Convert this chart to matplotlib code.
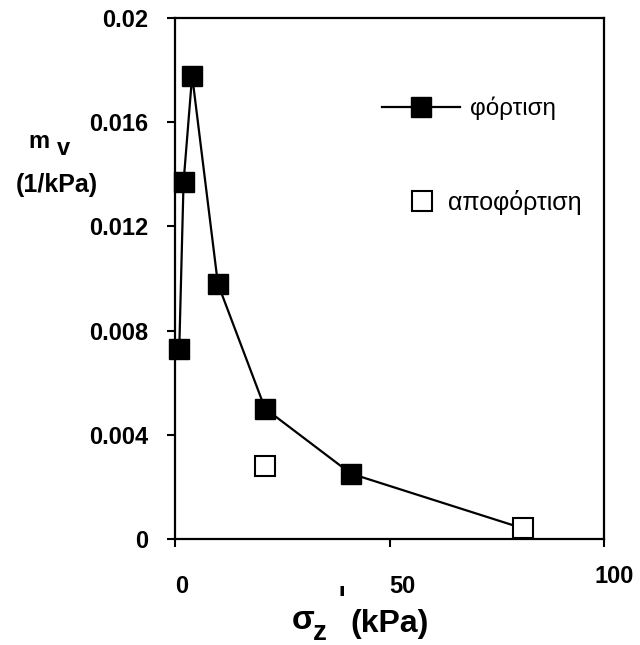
import matplotlib.pyplot as plt
from matplotlib.lines import Line2D
from matplotlib.transforms import ScaledTranslation

plt.rcParams['font.family'] = ['Liberation Sans', 'DejaVu Sans']

# loading (φόρτιση) and unloading (αποφόρτιση) data
load_x = [1, 2, 4, 10, 21, 41, 81]
load_y = [0.0073, 0.0137, 0.0178, 0.0098, 0.0050, 0.0025, 0.0004]
unload_x = [81, 21]
unload_y = [0.0004, 0.0028]

xticks = [0, 50, 100]
yticks = [0, 0.004, 0.008, 0.012, 0.016, 0.02]
ylabels = ['0', '0.004', '0.008', '0.012', '0.016', '0.02']

fig = plt.figure(figsize=(6.4, 6.45), dpi=100)
ax = fig.add_axes([0.2734, 0.1649, 0.6704, 0.8066])

ax.plot(load_x, load_y, color='black', lw=1.6, zorder=2, clip_on=False)
ax.plot(load_x[:-1], load_y[:-1], ls='none', marker='s', ms=15,
        mfc='black', mec='black', zorder=3, clip_on=False)
ax.plot(unload_x, unload_y, ls='none', marker='s', ms=15,
        mfc='white', mec='black', mew=1.5, zorder=4, clip_on=False)

ax.set_xlim(0, 100)
ax.set_ylim(0, 0.02)
ax.set_xticks(xticks)
ax.set_xticklabels([str(v) for v in xticks], ha='left')
ax.set_yticks(yticks)
ax.set_yticklabels(ylabels)
ax.tick_params(axis='both', direction='out', length=6, width=1.5,
               labelsize=17)
ax.tick_params(axis='x', pad=20)
ax.tick_params(axis='y', pad=13)
for lab in ax.get_xticklabels() + ax.get_yticklabels():
    lab.set_fontweight('bold')
# the "100" sits a little left and higher in the original
last = ax.get_xticklabels()[-1]
last.set_transform(last.get_transform() +
                   ScaledTranslation(-7 / 72, 7 / 72, fig.dpi_scale_trans))
for sp in ax.spines.values():
    sp.set_linewidth(1.6)

h1 = Line2D([], [], color='black', lw=1.6, marker='s', ms=15, mfc='black')
h2 = Line2D([], [], ls='none', marker='s', ms=15, mfc='white', mec='black', mew=1.5)
leg1 = ax.legend([h1], ['φόρτιση'], loc='upper left',
                 bbox_to_anchor=(0.4825, 0.849), frameon=False, fontsize=17.5,
                 handlelength=3.2, handletextpad=0.41,
                 borderpad=0, borderaxespad=0)
ax.add_artist(leg1)
ax.legend([h2], ['αποφόρτιση'], loc='upper left',
          bbox_to_anchor=(0.543, 0.670), frameon=False, fontsize=18,
          handlelength=1.15, handletextpad=0.45,
          borderpad=0, borderaxespad=0)

# axis titles
fig.text(0.045, 0.770, 'm', fontsize=17, fontweight='bold')
fig.text(0.089, 0.760, 'v', fontsize=17, fontweight='bold')
fig.text(0.025, 0.703, '(1/kPa)', fontsize=18, fontweight='bold')

fig.text(0.456, 0.025, 'σ', fontsize=24, fontweight='bold')
fig.text(0.489, 0.007, 'z', fontsize=20, fontweight='bold')
fig.text(0.527, 0.044, "'", fontsize=32)
fig.text(0.547, 0.020, '(kPa)', fontsize=23, fontweight='bold')

fig.savefig('out.png', dpi=100)
